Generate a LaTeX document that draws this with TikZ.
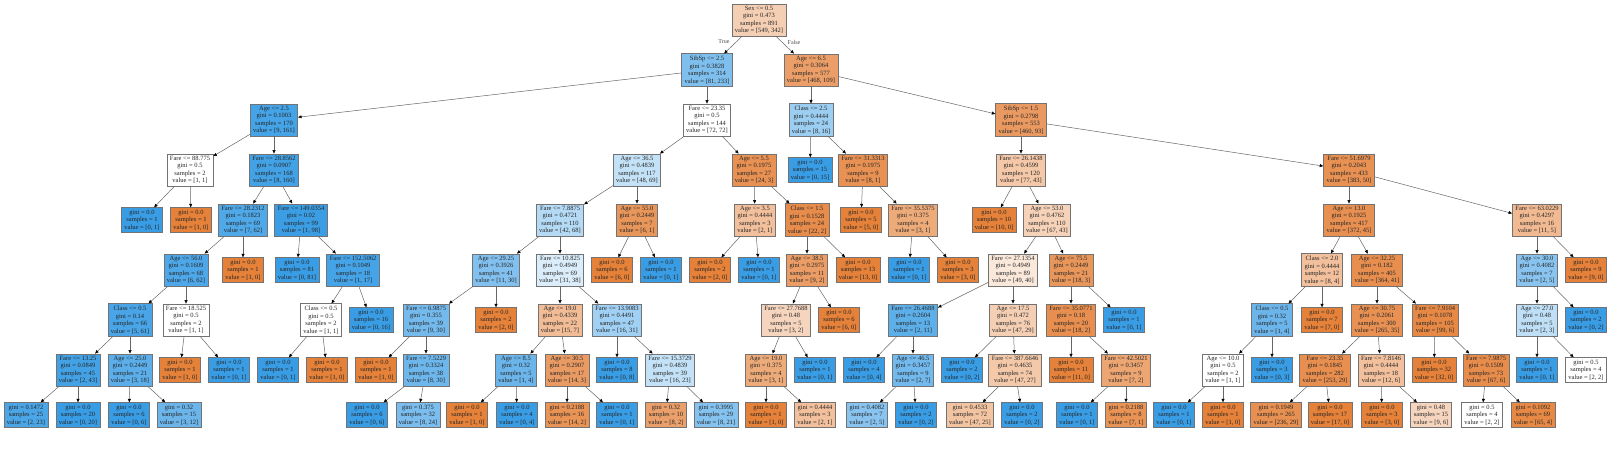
\documentclass[tikz,border=0pt]{standalone}
\usepackage{fontspec}
\setmainfont{Liberation Serif}
\usetikzlibrary{arrows.meta}
\definecolor{czero}{RGB}{229,129,57}
\definecolor{cone}{RGB}{57,157,229}
\tikzset{
  box/.style={draw=black!55, line width=0.6pt, rectangle, align=center,
    inner xsep=3pt, inner ysep=2.2pt, text=black!85,
    font=\fontsize{6.5}{7.5}\selectfont},
  % fill colour from the class counts, as the tree export does
  val/.code 2 args={%
    \pgfmathsetmacro\pbig{max(#1,#2)/(#1+#2)}%
    \pgfmathtruncatemacro\mixpct{round(100*(2*\pbig-1)/\pbig)}%
    \ifnum#1<#2\relax\def\mixcls{cone}\else\def\mixcls{czero}\fi
    \edef\mixfill{\noexpand\pgfkeysalso{fill=\mixcls!\mixpct!white}}\mixfill},
  link/.style={draw=black!60, line width=0.5pt,
    -{Triangle[length=3.5pt,width=3pt,color=black]}},
  lbl/.style={font=\fontsize{6}{7}\selectfont, text=black!70},
}
\begin{document}
\begin{tikzpicture}[x=1pt,y=-1pt]
  \useasboundingbox (0,0) rectangle (1620,458);

  % level 0
  \node[box, val={549}{342}] (n) at (759,20) {Sex <= 0.5\\gini = 0.473\\samples = 891\\value = [549, 342]};

  % level 1
  \node[box, val={81}{233}] (na) at (707,70) {SibSp <= 2.5\\gini = 0.3828\\samples = 314\\value = [81, 233]};
  \node[box, val={468}{109}] (nb) at (811,70) {Age <= 6.5\\gini = 0.3064\\samples = 577\\value = [468, 109]};

  % level 2
  \node[box, val={9}{161}] (naa) at (274,120) {Age <= 2.5\\gini = 0.1003\\samples = 170\\value = [9, 161]};
  \node[box, val={72}{72}] (nab) at (707,120) {Fare <= 23.35\\gini = 0.5\\samples = 144\\value = [72, 72]};
  \node[box, val={8}{16}] (nba) at (811,120) {Class <= 2.5\\gini = 0.4444\\samples = 24\\value = [8, 16]};
  \node[box, val={460}{93}] (nbb) at (1021,120) {SibSp <= 1.5\\gini = 0.2798\\samples = 553\\value = [460, 93]};

  % level 3
  \node[box, val={1}{1}] (naaa) at (190,170) {Fare <= 88.775\\gini = 0.5\\samples = 2\\value = [1, 1]};
  \node[box, val={8}{160}] (naab) at (274,170) {Fare <= 28.8562\\gini = 0.0907\\samples = 168\\value = [8, 160]};
  \node[box, val={48}{69}] (naba) at (637,170) {Age <= 36.5\\gini = 0.4839\\samples = 117\\value = [48, 69]};
  \node[box, val={24}{3}] (nabb) at (754,170) {Age <= 5.5\\gini = 0.1975\\samples = 27\\value = [24, 3]};
  \node[box, val={0}{15}] (nbaa) at (810,170) {gini = 0.0\\samples = 15\\value = [0, 15]};
  \node[box, val={8}{1}] (nbab) at (863,170) {Fare <= 31.3313\\gini = 0.1975\\samples = 9\\value = [8, 1]};
  \node[box, val={77}{43}] (nbba) at (1021,170) {Fare <= 26.1438\\gini = 0.4599\\samples = 120\\value = [77, 43]};
  \node[box, val={383}{50}] (nbbb) at (1349,170) {Fare <= 51.6979\\gini = 0.2043\\samples = 433\\value = [383, 50]};

  % level 4
  \node[box, val={0}{1}] (naaaa) at (142,220) {gini = 0.0\\samples = 1\\value = [0, 1]};
  \node[box, val={1}{0}] (naaab) at (191,220) {gini = 0.0\\samples = 1\\value = [1, 0]};
  \node[box, val={7}{62}] (naaba) at (243,220) {Fare <= 28.2312\\gini = 0.1823\\samples = 69\\value = [7, 62]};
  \node[box, val={1}{98}] (naabb) at (301,220) {Fare <= 149.0354\\gini = 0.02\\samples = 99\\value = [1, 98]};
  \node[box, val={42}{68}] (nabaa) at (560,220) {Fare <= 7.8875\\gini = 0.4721\\samples = 110\\value = [42, 68]};
  \node[box, val={6}{1}] (nabab) at (637,220) {Age <= 55.0\\gini = 0.2449\\samples = 7\\value = [6, 1]};
  \node[box, val={2}{1}] (nabba) at (755,220) {Age <= 3.5\\gini = 0.4444\\samples = 3\\value = [2, 1]};
  \node[box, val={22}{2}] (nabbb) at (807,220) {Class <= 1.5\\gini = 0.1528\\samples = 24\\value = [22, 2]};
  \node[box, val={5}{0}] (nbaba) at (861,220) {gini = 0.0\\samples = 5\\value = [5, 0]};
  \node[box, val={3}{1}] (nbabb) at (913,220) {Fare <= 35.5375\\gini = 0.375\\samples = 4\\value = [3, 1]};
  \node[box, val={10}{0}] (nbbaa) at (994,220) {gini = 0.0\\samples = 10\\value = [10, 0]};
  \node[box, val={67}{43}] (nbbab) at (1047,220) {Age <= 53.0\\gini = 0.4762\\samples = 110\\value = [67, 43]};
  \node[box, val={372}{45}] (nbbba) at (1349,220) {Age <= 13.0\\gini = 0.1925\\samples = 417\\value = [372, 45]};
  \node[box, val={11}{5}] (nbbbb) at (1537,220) {Fare <= 63.0229\\gini = 0.4297\\samples = 16\\value = [11, 5]};

  % level 5
  \node[box, val={6}{62}] (naabaa) at (186,270) {Age <= 56.0\\gini = 0.1609\\samples = 68\\value = [6, 62]};
  \node[box, val={1}{0}] (naabab) at (243,270) {gini = 0.0\\samples = 1\\value = [1, 0]};
  \node[box, val={0}{81}] (naabba) at (297,270) {gini = 0.0\\samples = 81\\value = [0, 81]};
  \node[box, val={1}{17}] (naabbb) at (353,270) {Fare <= 152.5062\\gini = 0.1049\\samples = 18\\value = [1, 17]};
  \node[box, val={11}{30}] (nabaaa) at (496,270) {Age <= 29.25\\gini = 0.3926\\samples = 41\\value = [11, 30]};
  \node[box, val={31}{38}] (nabaab) at (560,270) {Fare <= 10.825\\gini = 0.4949\\samples = 69\\value = [31, 38]};
  \node[box, val={6}{0}] (nababa) at (612,270) {gini = 0.0\\samples = 6\\value = [6, 0]};
  \node[box, val={0}{1}] (nababb) at (661,270) {gini = 0.0\\samples = 1\\value = [0, 1]};
  \node[box, val={2}{0}] (nabbaa) at (710,270) {gini = 0.0\\samples = 2\\value = [2, 0]};
  \node[box, val={0}{1}] (nabbab) at (759,270) {gini = 0.0\\samples = 1\\value = [0, 1]};
  \node[box, val={9}{2}] (nabbba) at (807,270) {Age <= 38.5\\gini = 0.2975\\samples = 11\\value = [9, 2]};
  \node[box, val={13}{0}] (nabbbb) at (858,270) {gini = 0.0\\samples = 13\\value = [13, 0]};
  \node[box, val={0}{1}] (nbabba) at (909,270) {gini = 0.0\\samples = 1\\value = [0, 1]};
  \node[box, val={3}{0}] (nbabbb) at (958,270) {gini = 0.0\\samples = 3\\value = [3, 0]};
  \node[box, val={49}{40}] (nbbaba) at (1013,270) {Fare <= 27.1354\\gini = 0.4949\\samples = 89\\value = [49, 40]};
  \node[box, val={18}{3}] (nbbabb) at (1071,270) {Age <= 75.5\\gini = 0.2449\\samples = 21\\value = [18, 3]};
  \node[box, val={8}{4}] (nbbbaa) at (1322,270) {Class <= 2.0\\gini = 0.4444\\samples = 12\\value = [8, 4]};
  \node[box, val={364}{41}] (nbbbab) at (1377,270) {Age <= 32.25\\gini = 0.182\\samples = 405\\value = [364, 41]};
  \node[box, val={2}{5}] (nbbbba) at (1537,270) {Age <= 30.0\\gini = 0.4082\\samples = 7\\value = [2, 5]};
  \node[box, val={9}{0}] (nbbbbb) at (1586,270) {gini = 0.0\\samples = 9\\value = [9, 0]};

  % level 6
  \node[box, val={5}{61}] (naabaaa) at (130,320) {Class <= 0.5\\gini = 0.14\\samples = 66\\value = [5, 61]};
  \node[box, val={1}{1}] (naabaab) at (186,320) {Fare <= 18.525\\gini = 0.5\\samples = 2\\value = [1, 1]};
  \node[box, val={1}{1}] (naabbba) at (321,320) {Class <= 0.5\\gini = 0.5\\samples = 2\\value = [1, 1]};
  \node[box, val={0}{16}] (naabbbb) at (371,320) {gini = 0.0\\samples = 16\\value = [0, 16]};
  \node[box, val={9}{30}] (nabaaaa) at (426,320) {Fare <= 6.9875\\gini = 0.355\\samples = 39\\value = [9, 30]};
  \node[box, val={2}{0}] (nabaaab) at (496,320) {gini = 0.0\\samples = 2\\value = [2, 0]};
  \node[box, val={15}{7}] (nabaaba) at (560,320) {Age <= 19.0\\gini = 0.4339\\samples = 22\\value = [15, 7]};
  \node[box, val={16}{31}] (nabaabb) at (617,320) {Fare <= 13.9083\\gini = 0.4491\\samples = 47\\value = [16, 31]};
  \node[box, val={3}{2}] (nabbbaa) at (786,320) {Fare <= 27.7688\\gini = 0.48\\samples = 5\\value = [3, 2]};
  \node[box, val={6}{0}] (nabbbab) at (839,320) {gini = 0.0\\samples = 6\\value = [6, 0]};
  \node[box, val={2}{11}] (nbbabaa) at (913,320) {Fare <= 26.4688\\gini = 0.2604\\samples = 13\\value = [2, 11]};
  \node[box, val={47}{29}] (nbbabab) at (1013,320) {Age <= 17.5\\gini = 0.472\\samples = 76\\value = [47, 29]};
  \node[box, val={18}{2}] (nbbabba) at (1071,320) {Fare <= 35.0771\\gini = 0.18\\samples = 20\\value = [18, 2]};
  \node[box, val={0}{1}] (nbbabbb) at (1124,320) {gini = 0.0\\samples = 1\\value = [0, 1]};
  \node[box, val={1}{4}] (nbbbaaa) at (1272,320) {Class <= 0.5\\gini = 0.32\\samples = 5\\value = [1, 4]};
  \node[box, val={7}{0}] (nbbbaab) at (1322,320) {gini = 0.0\\samples = 7\\value = [7, 0]};
  \node[box, val={265}{35}] (nbbbaba) at (1377,320) {Age <= 30.75\\gini = 0.2061\\samples = 300\\value = [265, 35]};
  \node[box, val={99}{6}] (nbbbabb) at (1435,320) {Fare <= 7.9104\\gini = 0.1078\\samples = 105\\value = [99, 6]};
  \node[box, val={2}{3}] (nbbbbaa) at (1537,320) {Age <= 27.0\\gini = 0.48\\samples = 5\\value = [2, 3]};
  \node[box, val={0}{2}] (nbbbbab) at (1586,320) {gini = 0.0\\samples = 2\\value = [0, 2]};

  % level 7
  \node[box, val={2}{43}] (naabaaaa) at (78,370) {Fare <= 13.25\\gini = 0.0849\\samples = 45\\value = [2, 43]};
  \node[box, val={3}{18}] (naabaaab) at (130,370) {Age <= 25.0\\gini = 0.2449\\samples = 21\\value = [3, 18]};
  \node[box, val={1}{0}] (naabaaba) at (180,370) {gini = 0.0\\samples = 1\\value = [1, 0]};
  \node[box, val={0}{1}] (naabaabb) at (229,370) {gini = 0.0\\samples = 1\\value = [0, 1]};
  \node[box, val={0}{1}] (naabbbaa) at (278,370) {gini = 0.0\\samples = 1\\value = [0, 1]};
  \node[box, val={1}{0}] (naabbbab) at (327,370) {gini = 0.0\\samples = 1\\value = [1, 0]};
  \node[box, val={1}{0}] (nabaaaaa) at (376,370) {gini = 0.0\\samples = 1\\value = [1, 0]};
  \node[box, val={8}{30}] (nabaaaab) at (426,370) {Fare <= 7.5229\\gini = 0.3324\\samples = 38\\value = [8, 30]};
  \node[box, val={1}{4}] (nabaabaa) at (516,370) {Age <= 8.5\\gini = 0.32\\samples = 5\\value = [1, 4]};
  \node[box, val={14}{3}] (nabaabab) at (567,370) {Age <= 30.5\\gini = 0.2907\\samples = 17\\value = [14, 3]};
  \node[box, val={0}{8}] (nabaabba) at (617,370) {gini = 0.0\\samples = 8\\value = [0, 8]};
  \node[box, val={16}{23}] (nabaabbb) at (670,370) {Fare <= 15.3729\\gini = 0.4839\\samples = 39\\value = [16, 23]};
  \node[box, val={3}{1}] (nabbbaaa) at (766,370) {Age <= 19.0\\gini = 0.375\\samples = 4\\value = [3, 1]};
  \node[box, val={0}{1}] (nabbbaab) at (815,370) {gini = 0.0\\samples = 1\\value = [0, 1]};
  \node[box, val={0}{4}] (nbbabaaa) at (864,370) {gini = 0.0\\samples = 4\\value = [0, 4]};
  \node[box, val={2}{7}] (nbbabaab) at (913,370) {Age <= 46.5\\gini = 0.3457\\samples = 9\\value = [2, 7]};
  \node[box, val={0}{2}] (nbbababa) at (962,370) {gini = 0.0\\samples = 2\\value = [0, 2]};
  \node[box, val={47}{27}] (nbbababb) at (1015,370) {Fare <= 387.6646\\gini = 0.4635\\samples = 74\\value = [47, 27]};
  \node[box, val={11}{0}] (nbbabbaa) at (1071,370) {gini = 0.0\\samples = 11\\value = [11, 0]};
  \node[box, val={7}{2}] (nbbabbab) at (1126,370) {Fare <= 42.5021\\gini = 0.3457\\samples = 9\\value = [7, 2]};
  \node[box, val={1}{1}] (nbbbaaaa) at (1223,370) {Age <= 10.0\\gini = 0.5\\samples = 2\\value = [1, 1]};
  \node[box, val={0}{3}] (nbbbaaab) at (1272,370) {gini = 0.0\\samples = 3\\value = [0, 3]};
  \node[box, val={253}{29}] (nbbbabaa) at (1325,370) {Fare <= 23.35\\gini = 0.1845\\samples = 282\\value = [253, 29]};
  \node[box, val={12}{6}] (nbbbabab) at (1381,370) {Fare <= 7.8146\\gini = 0.4444\\samples = 18\\value = [12, 6]};
  \node[box, val={32}{0}] (nbbbabba) at (1434,370) {gini = 0.0\\samples = 32\\value = [32, 0]};
  \node[box, val={67}{6}] (nbbbabbb) at (1486,370) {Fare <= 7.9875\\gini = 0.1509\\samples = 73\\value = [67, 6]};
  \node[box, val={0}{1}] (nbbbbaaa) at (1537,370) {gini = 0.0\\samples = 1\\value = [0, 1]};
  \node[box, val={2}{2}] (nbbbbaab) at (1586,370) {gini = 0.5\\samples = 4\\value = [2, 2]};

  % level 8
  \node[box, val={2}{23}] (naabaaaaa) at (26,415) {gini = 0.1472\\samples = 25\\value = [2, 23]};
  \node[box, val={0}{20}] (naabaaaab) at (78,415) {gini = 0.0\\samples = 20\\value = [0, 20]};
  \node[box, val={0}{6}] (naabaaaba) at (129,415) {gini = 0.0\\samples = 6\\value = [0, 6]};
  \node[box, val={3}{12}] (naabaaabb) at (179,415) {gini = 0.32\\samples = 15\\value = [3, 12]};
  \node[box, val={0}{6}] (nabaaaaba) at (367,415) {gini = 0.0\\samples = 6\\value = [0, 6]};
  \node[box, val={8}{24}] (nabaaaabb) at (418,415) {gini = 0.375\\samples = 32\\value = [8, 24]};
  \node[box, val={1}{0}] (nabaabaaa) at (467,415) {gini = 0.0\\samples = 1\\value = [1, 0]};
  \node[box, val={0}{4}] (nabaabaab) at (517,415) {gini = 0.0\\samples = 4\\value = [0, 4]};
  \node[box, val={14}{2}] (nabaababa) at (567,415) {gini = 0.2188\\samples = 16\\value = [14, 2]};
  \node[box, val={0}{1}] (nabaababb) at (617,415) {gini = 0.0\\samples = 1\\value = [0, 1]};
  \node[box, val={8}{2}] (nabaabbba) at (666,415) {gini = 0.32\\samples = 10\\value = [8, 2]};
  \node[box, val={8}{21}] (nabaabbbb) at (716,415) {gini = 0.3995\\samples = 29\\value = [8, 21]};
  \node[box, val={1}{0}] (nabbbaaaa) at (766,415) {gini = 0.0\\samples = 1\\value = [1, 0]};
  \node[box, val={2}{1}] (nabbbaaab) at (815,415) {gini = 0.4444\\samples = 3\\value = [2, 1]};
  \node[box, val={2}{5}] (nbbabaaba) at (867,415) {gini = 0.4082\\samples = 7\\value = [2, 5]};
  \node[box, val={0}{2}] (nbbabaabb) at (916,415) {gini = 0.0\\samples = 2\\value = [0, 2]};
  \node[box, val={47}{25}] (nbbababba) at (970,415) {gini = 0.4533\\samples = 72\\value = [47, 25]};
  \node[box, val={0}{2}] (nbbababbb) at (1022,415) {gini = 0.0\\samples = 2\\value = [0, 2]};
  \node[box, val={0}{1}] (nbbabbaba) at (1077,415) {gini = 0.0\\samples = 1\\value = [0, 1]};
  \node[box, val={7}{1}] (nbbabbabb) at (1126,415) {gini = 0.2188\\samples = 8\\value = [7, 1]};
  \node[box, val={0}{1}] (nbbbaaaaa) at (1174,415) {gini = 0.0\\samples = 1\\value = [0, 1]};
  \node[box, val={1}{0}] (nbbbaaaab) at (1223,415) {gini = 0.0\\samples = 1\\value = [1, 0]};
  \node[box, val={236}{29}] (nbbbabaaa) at (1276,415) {gini = 0.1949\\samples = 265\\value = [236, 29]};
  \node[box, val={17}{0}] (nbbbabaab) at (1330,415) {gini = 0.0\\samples = 17\\value = [17, 0]};
  \node[box, val={3}{0}] (nbbbababa) at (1382,415) {gini = 0.0\\samples = 3\\value = [3, 0]};
  \node[box, val={9}{6}] (nbbbababb) at (1431,415) {gini = 0.48\\samples = 15\\value = [9, 6]};
  \node[box, val={2}{2}] (nbbbabbba) at (1482,415) {gini = 0.5\\samples = 4\\value = [2, 2]};
  \node[box, val={65}{4}] (nbbbabbbb) at (1533,415) {gini = 0.1092\\samples = 69\\value = [65, 4]};

  % every split node points to its two children (name+a, name+b)
  \foreach \p in {n, na, nb, naa, nab, nba, nbb,
      naaa, naab, naba, nabb, nbab, nbba, nbbb,
      naaba, naabb, nabaa, nabab, nabba, nabbb, nbabb, nbbab, nbbba, nbbbb,
      naabaa, naabbb, nabaaa, nabaab, nabbba, nbbaba, nbbabb, nbbbaa, nbbbab, nbbbba,
      naabaaa, naabaab, naabbba, nabaaaa, nabaaba, nabaabb, nabbbaa,
      nbbabaa, nbbabab, nbbabba, nbbbaaa, nbbbaba, nbbbabb, nbbbbaa,
      naabaaaa, naabaaab, nabaaaab, nabaabaa, nabaabab, nabaabbb, nabbbaaa,
      nbbabaab, nbbababb, nbbabbab, nbbbaaaa, nbbbabaa, nbbbabab, nbbbabbb}
  {
    \draw[link] (\p) -- (\p a);
    \draw[link] (\p) -- (\p b);
  }

  \node[lbl] (ltrue) at (724,42) {True};
  \node[lbl] (lfalse) at (794,42) {False};
\end{tikzpicture}
\end{document}
